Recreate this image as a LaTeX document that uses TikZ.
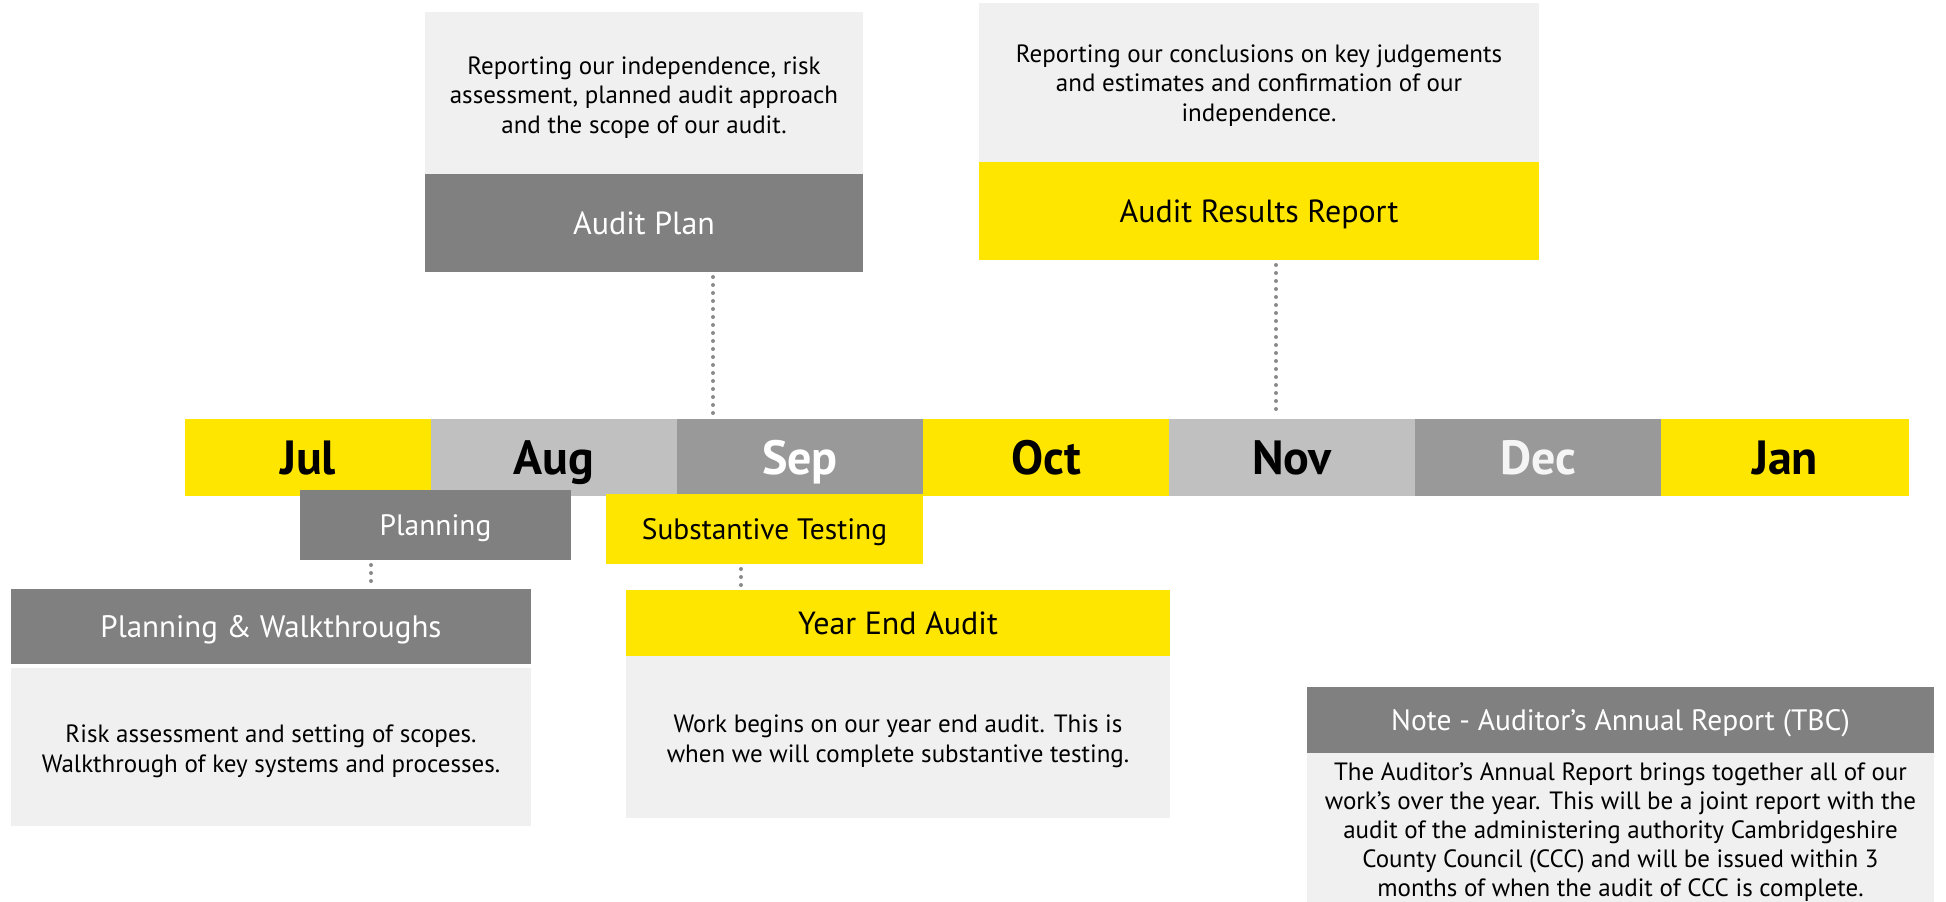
\documentclass[tikz,border=0pt]{standalone}
\usepackage{fontspec}
\setmainfont{PT Sans}
\definecolor{eyyellow}{HTML}{FFE600}
\definecolor{darkgr}{HTML}{808080}
\definecolor{midgr}{HTML}{999999}
\definecolor{lightgr}{HTML}{C0C0C0}
\definecolor{boxgr}{HTML}{F0F0F0}
\definecolor{dotgr}{HTML}{8A8A8A}
\newcommand{\tstrut}{\rule{0pt}{26pt}}
\begin{document}
\begin{tikzpicture}[x=1pt,y=-1pt,
  box/.style={anchor=north west,inner sep=0pt,outer sep=0pt,align=center},
  bodytext/.style={box,fill=boxgr,text=black,font=\fontsize{25}{29.5}\selectfont},
  label/.style={box,text height=22.4pt,text depth=0pt,font=\fontsize{32}{36}\selectfont},
  smalllabel/.style={box,text height=20.7pt,text depth=0pt,font=\fontsize{29.5}{34}\selectfont},
  month/.style={box,text height=33.6pt,text depth=0pt,minimum width=246pt,minimum height=77pt,font=\fontsize{48}{52}\selectfont\bfseries},
  dotline/.style={draw=dotgr,line width=4pt,dash pattern=on 0pt off 8pt,line cap=round}]
\useasboundingbox (0,0) rectangle (1946,902);
% months
\node[month,fill=eyyellow,text=black] (jul) at (185,419) {Jul};
\node[month,fill=lightgr,text=black] (aug) at (431,419) {Aug};
\node[month,fill=midgr,text=white] (sep) at (677,419) {Sep};
\node[month,fill=eyyellow,text=black] (oct) at (923,419) {Oct};
\node[month,fill=lightgr,text=black] (nov) at (1169,419) {Nov};
\node[month,fill=midgr,text=white!96!black] (dec) at (1415,419) {Dec};
\node[month,fill=eyyellow,text=black,minimum width=248pt] (jan) at (1661,419) {Jan};
% audit plan
\node[bodytext,minimum width=438pt,minimum height=162pt] (apd) at (425,12)
  {\tstrut Reporting our independence, risk\\assessment, planned audit approach\\and the scope of our audit.};
\node[label,fill=darkgr,text=white,minimum width=438pt,minimum height=98pt] (ap) at (425,174) {Audit Plan};
% audit results
\node[bodytext,minimum width=560pt,minimum height=159pt] (ard) at (979,3)
  {\rule{0pt}{23pt}Reporting our conclusions on key judgements\\and estimates and confirmation of our\\independence.};
\node[label,fill=eyyellow,text=black,minimum width=560pt,minimum height=98pt] (ar) at (979,162) {Audit Results Report};
% planning
\node[smalllabel,fill=darkgr,text=white,minimum width=271pt,minimum height=70pt] (pl) at (300,490) {Planning};
\node[smalllabel,fill=eyyellow,text=black,minimum width=317pt,minimum height=70pt] (st) at (606,494) {Substantive Testing};
% planning & walkthroughs
\node[box,text height=21.7pt,text depth=0pt,font=\fontsize{31}{36}\selectfont,fill=darkgr,text=white,minimum width=520pt,minimum height=75pt] (pw) at (11,589) {Planning \& Walkthroughs};
\node[bodytext,minimum width=520pt,minimum height=158pt] (pwd) at (11,668)
  {\tstrut Risk assessment and setting of scopes.\\Walkthrough of key systems and processes.};
% year end audit
\node[label,fill=eyyellow,text=black,minimum width=544pt,minimum height=66pt] (ye) at (626,590) {Year End Audit};
\node[bodytext,minimum width=544pt,minimum height=162pt] (yed) at (626,656)
  {\tstrut Work begins on our year end audit. This is\\when we will complete substantive testing.};
% note
\node[smalllabel,fill=darkgr,text=white,minimum width=627pt,minimum height=66pt] (nt) at (1307,687) {Note - Auditor’s Annual Report (TBC)};
\node[box,fill=boxgr,minimum width=627pt,minimum height=149pt] (ntd) at (1307,753) {};
\node[anchor=north,inner sep=0pt,align=center,text=black,font=\fontsize{25}{29}\selectfont,yshift=-4pt] (ntt) at (ntd.north)
  {\rule{0pt}{23pt}The Auditor’s Annual Report brings together all of our\\work’s over the year. This will be a joint report with the\\audit of the administering authority Cambridgeshire\\County Council (CCC) and will be issued within 3\\months of when the audit of CCC is complete.};
% connectors
\coordinate (c1) at (713,0);
\coordinate (c2) at (1276,0);
\coordinate (c3) at (371,0);
\coordinate (c4) at (741,0);
\draw[dotline] ([yshift=-5pt]ap.south -| c1) -- ([yshift=3pt]sep.north -| c1);
\draw[dotline] ([yshift=-5pt]ar.south -| c2) -- ([yshift=3pt]nov.north -| c2);
\draw[dotline] ([yshift=-5pt]pl.south -| c3) -- ([yshift=3pt]pw.north -| c3);
\draw[dotline] ([yshift=-5pt]st.south -| c4) -- ([yshift=3pt]ye.north -| c4);
\end{tikzpicture}
\end{document}
